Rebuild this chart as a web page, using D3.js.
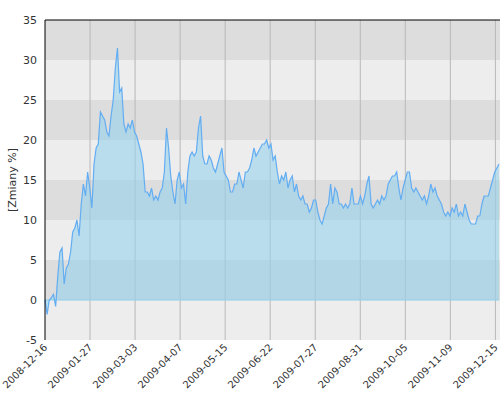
<!DOCTYPE html>
<html><head><meta charset="utf-8">
<script src="https://cdn.jsdelivr.net/npm/d3@7"></script>
<style>body{margin:0;background:#fff}text{font-family:"DejaVu Sans",sans-serif;}</style>
</head><body><svg id="c" width="500" height="400"></svg>
<script>
const tickLabels=["2008-12-16","2009-01-27","2009-03-03","2009-04-07","2009-05-15","2009-06-22","2009-07-27","2009-08-31","2009-10-05","2009-11-09","2009-12-15"];
const yTicks=[-5,0,5,10,15,20,25,30,35];
const values=[0,-1.8,0,0.3,0.7,-0.8,3,6,6.5,2,4,4.5,6,8.5,9,10,8,12,14.5,13,16,14,11.5,17,19,19.5,23.5,23,22.5,21,20.5,23,25,29,31.5,26,26.5,22,21,22,21.5,22.5,21,20.5,19.5,18.5,17,13.5,13.5,13,14,12.5,13,12.5,13.5,14,16,21.5,19,15.5,13.5,12,15,16,14,14.5,12,16,18,18.5,18,18.5,21.5,23,18,17,17,18,17.5,16.5,16,17,18,19,16,15.5,15,13.5,13.5,14.5,14.5,16,15,14,16,16,16.5,17.5,19,18,18.5,19,19.5,19.5,20,19,19.5,17.5,18,16,14.5,15.5,15,16,14,15,15.5,13.5,14.5,13,12.5,13,12,12,11,11.5,12.5,12.5,11,10,9.5,10.5,11.5,12,14.5,12,14,13.5,12,12,11.5,12,11.5,12,14,12,12,12,13,12,13,14.5,15.5,12,11.5,12,12.5,12,13,12.5,13,14.5,15,15.5,15.5,16,14,12.5,14,15,16,16,14,13.5,14,13.5,13,12.5,13,12,13,14.5,13.5,14,13,12.5,12,11,10.5,11,10.5,11.5,11,12,10.5,11,10.5,12,11,10,9.5,9.5,9.5,10.5,10.5,12,13,13,13,14,15,16,16.5,17];
const svg=d3.select("#c");
const L=45,R=499,T=20,B=340,days=252;
const x=d3.scaleLinear().domain([0,days]).range([L,R]);
const y=d3.scaleLinear().domain([-5,35]).range([B,T]);
// bands
for(let v=-5;v<35;v+=5){
  const idx=(v+5)/5;
  svg.append("rect").attr("x",L).attr("width",R+1-L).attr("y",y(v+5)).attr("height",y(v)-y(v+5))
   .attr("fill",idx%2===0?"#ededed":"#dddddd");
}
// vertical grid
tickLabels.forEach((t,k)=>{ if(k>0) svg.append("line").attr("x1",x(25*k)).attr("x2",x(25*k)).attr("y1",T).attr("y2",B).attr("stroke","#b8b8b8").attr("stroke-width",1);});
const pts=values.map((v,i)=>[i*days/(values.length-1),v]);
svg.append("path").datum(pts).attr("d",d3.area().x(d=>x(d[0])).y0(y(0)).y1(d=>y(d[1]))).attr("fill","rgba(150,210,235,0.6)");
svg.append("line").attr("x1",L).attr("x2",R).attr("y1",y(0)).attr("y2",y(0)).attr("stroke","#8fd0ea");
svg.append("path").datum(pts).attr("d",d3.line().x(d=>x(d[0])).y(d=>y(d[1]))).attr("fill","none").attr("stroke","#63adf2").attr("stroke-width",1.2);
// borders
svg.append("line").attr("x1",L).attr("x2",R+1).attr("y1",T).attr("y2",T).attr("stroke","#000");
svg.append("line").attr("x1",L).attr("x2",L).attr("y1",T).attr("y2",B).attr("stroke","#000");
// y labels
yTicks.forEach(v=>svg.append("text").attr("x",37).attr("y",y(v)+4).attr("text-anchor","end").attr("font-size",11).attr("fill","#333").text(v));
svg.append("text").attr("transform","translate(16,180) rotate(-90)").attr("text-anchor","middle").attr("font-size",11).attr("fill","#333").text("[Zmiany %]");
tickLabels.forEach((t,k)=>svg.append("text").attr("transform",`translate(${x(25*k)+3},${B+8}) rotate(-45)`).attr("text-anchor","end").attr("font-size",10).attr("fill","#333").text(t));
</script></body></html>
